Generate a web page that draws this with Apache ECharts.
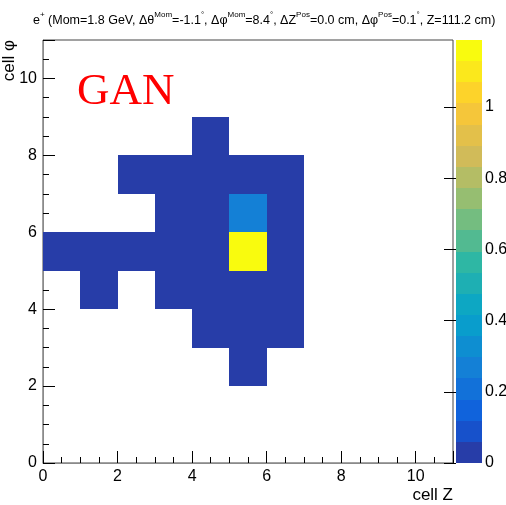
<!DOCTYPE html>
<html>
<head>
<meta charset="utf-8">
<script src="https://cdn.jsdelivr.net/npm/echarts@6/dist/echarts.min.js"></script>
<style>html,body{margin:0;padding:0;background:#fff;}#c{width:506px;height:505px;}</style>
</head>
<body>
<div id="c"></div>
<script>
// ---- data ----
const cellZ   = [4, 2, 3, 4, 5, 6, 3, 4, 5, 6, 0, 1, 2, 3, 4, 5, 6, 1, 3, 4, 5, 6, 4, 5, 6, 5];
const cellPhi = [8, 7, 7, 7, 7, 7, 6, 6, 6, 6, 5, 5, 5, 5, 5, 5, 5, 4, 4, 4, 4, 4, 3, 3, 3, 2];
const energy  = [0.03, 0.02, 0.03, 0.04, 0.05, 0.03, 0.03, 0.05, 0.27, 0.04, 0.02, 0.03, 0.03, 0.04, 0.05, 1.188, 0.05,
                 0.02, 0.03, 0.05, 0.05, 0.04, 0.03, 0.05, 0.03, 0.02];
const axisTickLabels = [0, 2, 4, 6, 8, 10];
const colorTickLabels = [0, 0.2, 0.4, 0.6, 0.8, 1];
const nContours = 20;

// ---- kBird palette ----
const stops = [0, 0.125, 0.25, 0.375, 0.5, 0.625, 0.75, 0.875, 1];
const R = [0.2082, 0.0592, 0.0780, 0.0232, 0.1802, 0.5301, 0.8186, 0.9956, 0.9764];
const G = [0.1664, 0.3599, 0.5041, 0.6419, 0.7178, 0.7492, 0.7328, 0.7862, 0.9832];
const B = [0.5293, 0.8684, 0.8385, 0.7914, 0.6425, 0.4662, 0.3499, 0.1968, 0.0539];
function bird(t) {
  let i = 0;
  while (i < stops.length - 2 && t > stops[i + 1]) i++;
  const f = (t - stops[i]) / (stops[i + 1] - stops[i]);
  const c = a => Math.round(255 * (a[i] + f * (a[i + 1] - a[i])));
  return 'rgb(' + c(R) + ',' + c(G) + ',' + c(B) + ')';
}
function bandColor(b) {
  const idx = Math.floor((b + 0.99) * 255 / nContours);
  return bird(Math.min(idx, 254) / 254);
}
const zMax = Math.max.apply(null, energy);
const step = zMax / nContours;
function valueColor(v) {
  let b = Math.floor(0.01 + v / step);
  if (b > nContours - 1) b = nContours - 1;
  return bandColor(b);
}
const cells = cellZ.map((z, i) => [z, cellPhi[i], energy[i]]);
const bands = [];
for (let b = 0; b < nContours; b++) bands.push([b * step, (b + 1) * step, b]);

function rectFrom(p0, p1, fill) {
  const x0 = Math.round(p0[0]), y0 = Math.round(p0[1]);
  const x1 = Math.round(p1[0]), y1 = Math.round(p1[1]);
  return {type: 'rect', shape: {x: x0, y: y0, width: x1 - x0, height: y1 - y0}, style: {fill: fill}};
}

const chart = echarts.init(document.getElementById('c'), null, {renderer: 'canvas'});
const FONT = 'Liberation Sans';
const majorAxis = (gi, pos) => ({
  type: 'value', gridIndex: gi, min: 0, max: 11, interval: 2, position: pos,
  axisLine: {show: true, onZero: false, lineStyle: {color: '#8a8a8a', width: 1}},
  axisTick: {show: true, inside: true, length: 12, lineStyle: {color: '#000'}},
  axisLabel: {show: true, margin: 6, fontSize: 16, color: '#000', fontFamily: FONT,
              customValues: axisTickLabels},
  splitLine: {show: false}
});
const minorAxis = (gi, pos) => ({
  type: 'value', gridIndex: gi, min: 0, max: 11, interval: 0.5, position: pos,
  axisLine: {show: false},
  axisTick: {show: true, inside: true, length: 6, lineStyle: {color: '#000'}},
  axisLabel: {show: false},
  splitLine: {show: false}
});

chart.setOption({
  animation: false,
  backgroundColor: '#fff',
  title: {
    left: 28, top: 6,
    text: '{n|e}{s|+}{n| (Mom=1.8 GeV, Δθ}{s|Mom}{n|=-1.1}{s|°}{n|, Δφ}{s|Mom}{n|=8.4}{s|°}{n|, ΔZ}{s|Pos}{n|=0.0 cm, Δφ}{s|Pos}{n|=0.1}{s|°}{n|, Z=111.2 cm)}',
    textStyle: {
      fontWeight: 'normal',
      rich: {
        n: {fontSize: 12.5, fontFamily: FONT, fontWeight: 'normal', color: '#000', verticalAlign: 'bottom', lineHeight: 16},
        s: {fontSize: 8, fontFamily: FONT, fontWeight: 'normal', color: '#000', verticalAlign: 'top', lineHeight: 16}
      }
    }
  },
  grid: [
    {left: 43, top: 40, width: 410, height: 423, show: true, borderColor: '#444', borderWidth: 1,
     backgroundColor: 'transparent', outerBoundsMode: 'none', containLabel: false},
    {left: 456, top: 40, width: 26, height: 423, show: false, outerBoundsMode: 'none', containLabel: false}
  ],
  xAxis: [
    majorAxis(0, 'bottom'),
    minorAxis(0, 'bottom'),
    {type: 'value', gridIndex: 1, min: 0, max: 1, show: false}
  ],
  yAxis: [
    majorAxis(0, 'left'),
    minorAxis(0, 'left'),
    {type: 'value', gridIndex: 1, min: 0, max: zMax, position: 'right',
     axisLine: {show: false},
     axisTick: {show: true, inside: true, length: 12, lineStyle: {color: '#000'}, customValues: colorTickLabels},
     axisLabel: {show: true, margin: 3, align: 'left', fontSize: 16, color: '#000', fontFamily: FONT, customValues: colorTickLabels},
     splitLine: {show: false}}
  ],
  series: [
    {
      type: 'custom', xAxisIndex: 0, yAxisIndex: 0, clip: true,
      data: cells,
      renderItem: function (params, api) {
        const x = api.value(0), y = api.value(1);
        return rectFrom(api.coord([x, y + 1]), api.coord([x + 1, y]), valueColor(api.value(2)));
      }
    },
    {
      type: 'custom', xAxisIndex: 2, yAxisIndex: 2,
      data: bands,
      renderItem: function (params, api) {
        return rectFrom(api.coord([0, api.value(1)]), api.coord([1, api.value(0)]), bandColor(api.value(2)));
      }
    }
  ],
  graphic: [
    {type: 'text', left: 77, top: 70, style: {text: 'GAN', fill: '#ff0000', font: '45px "Liberation Serif"'}},
    {type: 'text', x: 453, y: 495, style: {text: 'cell Z', fill: '#000', font: '17px "Liberation Sans"', textAlign: 'right', textVerticalAlign: 'middle'}},
    {type: 'text', x: 9, y: 40, rotation: Math.PI / 2, style: {text: 'cell φ', fill: '#000', font: '17px "Liberation Sans"', textAlign: 'right', textVerticalAlign: 'middle'}}
  ]
});
</script>
</body>
</html>
